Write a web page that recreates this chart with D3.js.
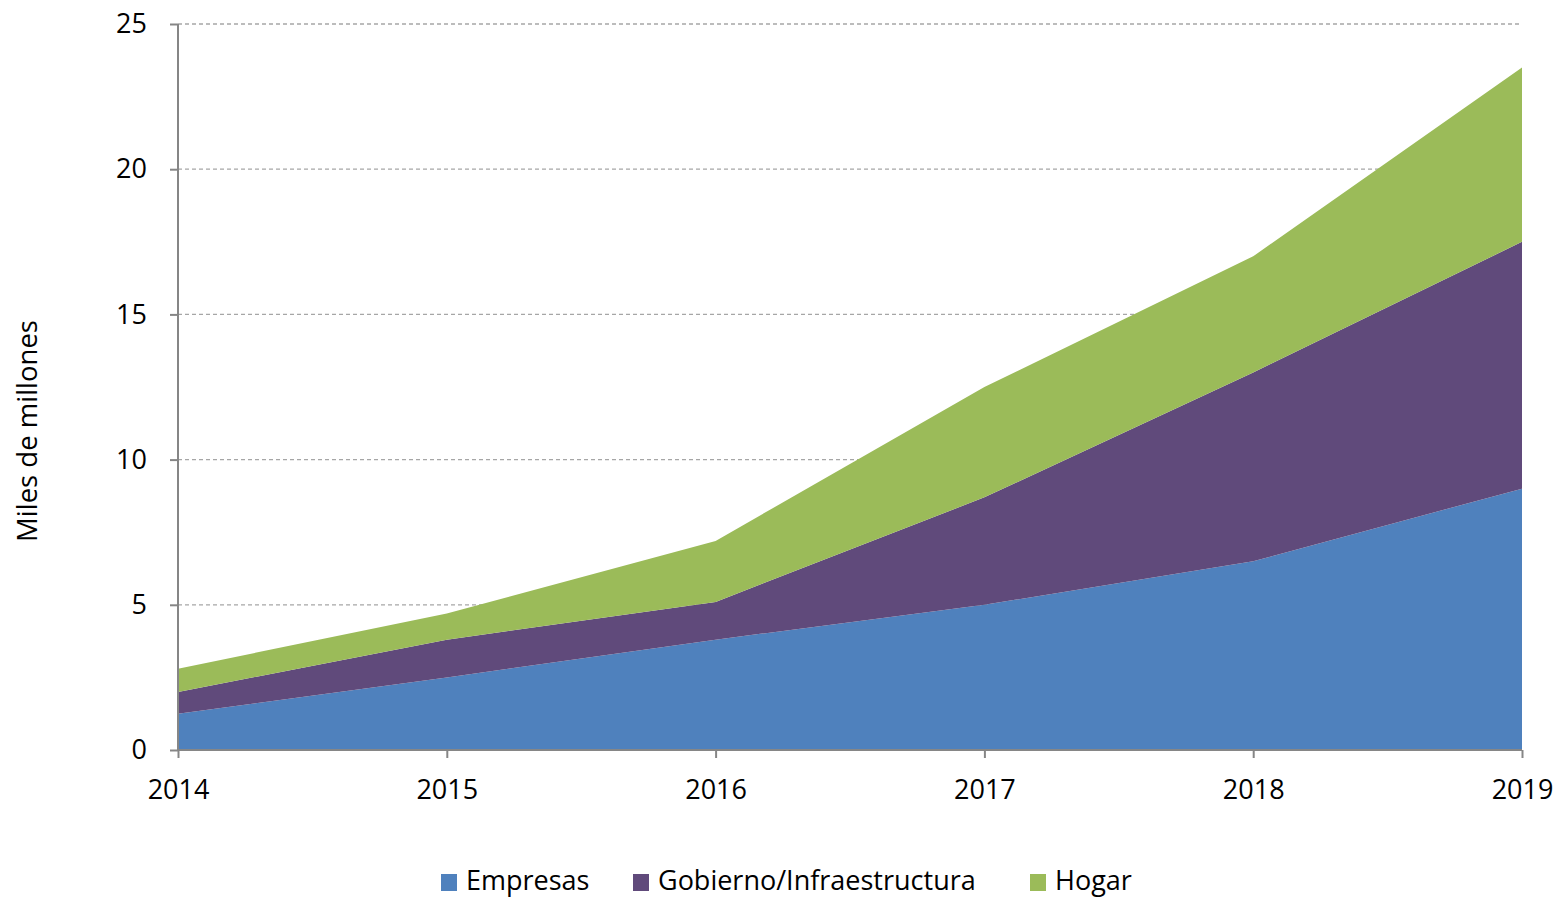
<!DOCTYPE html>
<meta charset="utf-8">
<style>
  body { margin: 0; background: #fff; }
  text { font-family: "Open Sans", sans-serif; fill: #000; }
</style>
<body>
<script src="https://cdn.jsdelivr.net/npm/d3@7"></script>
<script>

var width = 1559,
    height = 899,
    margin = {top: 24, right: 37, bottom: 149, left: 178};

var years = [2014, 2015, 2016, 2017, 2018, 2019];
var series = ["Empresas", "Gobierno/Infraestructura", "Hogar"];
var empresas = [1.25, 2.5, 3.8, 5.0, 6.5, 9.0];
var gobierno = [0.75, 1.3, 1.3, 3.7, 6.5, 8.5];
var hogar    = [0.8, 0.9, 2.1, 3.8, 4.0, 6.0];
var yTicks = [0, 5, 10, 15, 20, 25];
var colors = ["#4f81bd", "#604a7b", "#9bbb59"];

var rows = years.map(function(y, i) {
  return {year: y, "Empresas": empresas[i], "Gobierno/Infraestructura": gobierno[i], "Hogar": hogar[i]};
});

var svg = d3.select("body").append("svg")
    .attr("width", width)
    .attr("height", height);

var x = d3.scaleLinear()
    .domain([2014, 2019])
    .range([margin.left, width - margin.right]);

var y = d3.scaleLinear()
    .domain([0, 25])
    .range([height - margin.bottom, margin.top]);

// grid
svg.append("g")
  .selectAll("line")
  .data(yTicks.slice(1))
  .enter().append("line")
    .attr("x1", x(2014)).attr("x2", x(2019))
    .attr("y1", d => y(d)).attr("y2", d => y(d))
    .attr("stroke", "#a6a6a6")
    .attr("stroke-width", 1.3)
    .attr("stroke-dasharray", "4,3");

var stack = d3.stack().keys(series);
var area = d3.area()
    .x(d => x(d.data.year))
    .y0(d => y(d[0]))
    .y1(d => y(d[1]));

svg.append("g")
  .selectAll("path")
  .data(stack(rows))
  .enter().append("path")
    .attr("fill", (d, i) => colors[i])
    .attr("d", area);

// axes
var xAxis = svg.append("g")
    .attr("transform", "translate(0," + y(0) + ")")
    .call(d3.axisBottom(x).tickValues(years).tickFormat(d3.format("d")).tickSize(8).tickPadding(22));

var yAxis = svg.append("g")
    .attr("transform", "translate(" + x(2014) + ",0)")
    .call(d3.axisLeft(y).tickValues(yTicks).tickSize(8).tickPadding(23));

[xAxis, yAxis].forEach(function(a) {
  a.select(".domain").attr("stroke", "#868686").attr("stroke-width", 2);
  a.selectAll(".tick line").attr("stroke", "#868686").attr("stroke-width", 2);
  a.selectAll("text").style("font-size", "27px");
});
xAxis.selectAll(".domain").attr("d", "M" + x(2014) + ",0H" + x(2019));
yAxis.selectAll(".domain").attr("d", "M0," + y(0) + "V" + y(25));

svg.append("text")
    .attr("transform", "translate(27,431) rotate(-90)")
    .attr("text-anchor", "middle")
    .attr("dy", "0.35em")
    .style("font-size", "27.5px")
    .text("Miles de millones");

// legend
var legendX = [441, 633, 1030];
var legend = svg.append("g")
  .selectAll("g")
  .data(series)
  .enter().append("g")
    .attr("transform", (d, i) => "translate(" + legendX[i] + ",881)");

legend.append("rect")
    .attr("x", 0).attr("y", -7)
    .attr("width", 16).attr("height", 17)
    .attr("fill", (d, i) => colors[i]);

legend.append("text")
    .attr("x", 25)
    .attr("dy", "0.35em")
    .style("font-size", "27px")
    .text(d => d);

</script>
